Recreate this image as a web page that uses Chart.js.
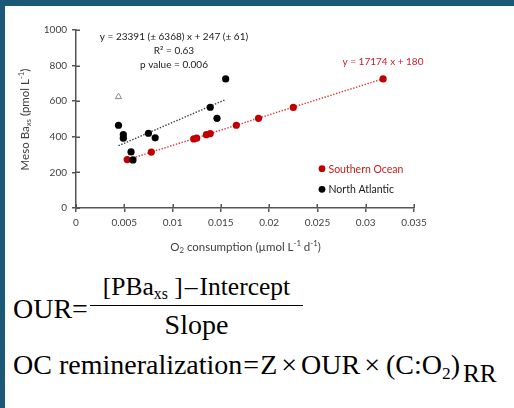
<!DOCTYPE html>
<html>
<head>
<meta charset="utf-8">
<script src="https://cdn.jsdelivr.net/npm/chart.js@4.4.1/dist/chart.umd.min.js"></script>
<style>
    html, body { margin: 0; padding: 0; background: #fff; }
    #marco { position: relative; width: 514px; height: 408px; overflow: hidden; background: #fff; }
    #barra-sup { position: absolute; left: 0; top: 0; width: 514px; height: 6px; background: #1a5878; }
    #barra-izq { position: absolute; left: 0; top: 0; width: 5px; height: 408px; background: #1a5878; }
    #grafico-ba { position: absolute; left: 5px; top: 6px; }
    .ec { position: absolute; font-family: "Liberation Serif", "Times New Roman", serif; font-size: 28px; line-height: 1; color: #000; white-space: nowrap; }
    .ec .op { margin: 0 2px; }
    .ec .ig { margin: 0 1px; }
    .ec .por { margin: 0 4px; }
    .ec .par { margin-left: 2px; }
    .ec .sb { font-size: 0.62em; position: relative; top: 0.28em; }
    .ec .rr { font-size: 0.9em; top: 0.3em; margin-left: 3px; }
    .frac { position: absolute; left: 90px; width: 213px; text-align: center; }
    #raya { position: absolute; left: 90px; top: 305px; width: 213px; height: 1px; background: #000; }
</style>
</head>
<body>
<div id="marco">
    <div id="barra-sup"></div>
    <div id="barra-izq"></div>
    <canvas id="grafico-ba" width="509" height="254"></canvas>

    <div class="ec" style="left:13px; top:295px;">OUR=</div>
    <div class="ec frac" style="top:274px; font-size:25.5px;">[PBa<span class="sb">xs</span> ]<span class="op">–</span>Intercept</div>
    <div id="raya"></div>
    <div class="ec frac" style="top:311px;">Slope</div>
    <div class="ec" style="left:13px; top:351px;">OC remineralization<span class="ig">=</span>Z<span class="por">×</span>OUR<span class="por">×</span><span class="par">(</span>C:O<span class="sb">2</span>)<span class="sb rr">RR</span></div>
</div>

<script>
// Océano Austral
const surX = [0.0053, 0.0078, 0.0122, 0.0125, 0.0135, 0.0139, 0.0166, 0.0189, 0.0225, 0.0318];
const surY = [272, 314, 388, 392, 412, 418, 465, 504, 565, 725];

// Atlántico Norte
const norteX = [0.0044, 0.0049, 0.0049, 0.0057, 0.0059, 0.0075, 0.0082, 0.0139, 0.0146, 0.0155];
const norteY = [465, 412, 392, 315, 270, 420, 394, 566, 504, 725];

// punto fuera del ajuste (triángulo)
const excluidoX = [0.0044];
const excluidoY = [625];

// rectas de regresión: [Austral, Norte]
const pendientes = [17174, 23391];
const ordenadas = [180, 247];

// ejes
const xTicks = [0, 0.005, 0.01, 0.015, 0.02, 0.025, 0.03, 0.035];
const xEtiquetas = ["0", "0.005", "0.01", "0.015", "0.02", "0.025", "0.03", "0.035"];
const yTicks = [0, 200, 400, 600, 800, 1000];
const yEtiquetas = ["0", "200", "400", "600", "800", "1000"];

const ROJO = "#c00000";
const GRIS = "#404040";
const EJE = "#555555";

function pares(xs, ys) {
    return xs.map((x, i) => ({ x: x, y: ys[i] }));
}

// recta entre el mínimo y el máximo de x de la serie
function recta(xs, m, b) {
    const x0 = Math.min(...xs), x1 = Math.max(...xs);
    return [{ x: x0, y: m * x0 + b }, { x: x1, y: m * x1 + b }];
}

// texto con subíndices / superíndices
function textoRico(ctx, partes, x, y, tam, color) {
    let ancho = 0;
    partes.forEach(p => {
        ctx.font = (p.s ? tam * 0.68 : tam) + "px Lato";
        p.w = ctx.measureText(p.t).width;
        ancho += p.w;
    });
    let cx = x - ancho / 2;
    ctx.fillStyle = color;
    ctx.textAlign = "left";
    ctx.textBaseline = "middle";
    partes.forEach(p => {
        ctx.font = (p.s ? tam * 0.68 : tam) + "px Lato";
        let dy = 0;
        if (p.s === "sub") dy = tam * 0.3;
        if (p.s === "sup") dy = -tam * 0.3;
        ctx.fillText(p.t, cx, y + dy);
        cx += p.w;
    });
}

const extras = {
    id: "extras",
    afterDraw(chart) {
        const ctx = chart.ctx;
        const sx = chart.scales.x, sy = chart.scales.y;
        ctx.save();

        // marcas hacia dentro (las de fuera las pone Chart.js)
        ctx.strokeStyle = EJE;
        ctx.lineWidth = 1.5;
        ctx.beginPath();
        yTicks.forEach(v => {
            const p = Math.round(sy.getPixelForValue(v)) + 0.25;
            ctx.moveTo(sx.left, p);
            ctx.lineTo(sx.left + 4, p);
        });
        xTicks.forEach(v => {
            const p = Math.round(sx.getPixelForValue(v)) + 0.25;
            ctx.moveTo(p, sy.bottom);
            ctx.lineTo(p, sy.bottom - 4);
        });
        ctx.stroke();

        // títulos de ejes
        textoRico(ctx, [
            { t: "O" }, { t: "2", s: "sub" }, { t: " consumption (µmol L" }, { t: "-1", s: "sup" },
            { t: " d" }, { t: "-1", s: "sup" }, { t: ")" }
        ], 240.5, 241, 11.5, GRIS);

        ctx.save();
        ctx.translate(20, 113.5);
        ctx.rotate(-Math.PI / 2);
        textoRico(ctx, [
            { t: "Meso Ba" }, { t: "xs", s: "sub" }, { t: " (pmol L" }, { t: "-1", s: "sup" }, { t: ")" }
        ], 0, 0, 11.5, GRIS);
        ctx.restore();

        // ecuaciones de las rectas
        ctx.font = "10px Lato";
        ctx.textAlign = "center";
        ctx.textBaseline = "middle";
        ctx.fillStyle = "#1a1a1a";
        ctx.fillText("y = " + pendientes[1] + " (± 6368) x + " + ordenadas[1] + " (± 61)", 169, 31);
        ctx.fillText("R² = 0.63", 169, 44.5);
        ctx.fillText("p value = 0.006", 169, 58.5);
        ctx.fillStyle = "#cc1a2a";
        ctx.fillText("y = " + pendientes[0] + " x + " + ordenadas[0], 378, 56);

        // leyenda
        const leyenda = [chart.data.datasets[0], chart.data.datasets[1]];
        const filas = [162.7, 183.3];
        ctx.font = "10.5px Lato";
        ctx.textAlign = "left";
        leyenda.forEach((ds, i) => {
            ctx.fillStyle = ds.backgroundColor;
            ctx.beginPath();
            ctx.arc(317, filas[i], 3.4, 0, Math.PI * 2);
            ctx.fill();
            ctx.fillStyle = i === 0 ? "#cc1a1a" : "#1a1a1a";
            ctx.fillText(ds.label, 323.5, filas[i] + 0.5);
        });

        ctx.restore();
    }
};

document.addEventListener("DOMContentLoaded", function () {
    const ctx = document.getElementById("grafico-ba").getContext("2d");

    new Chart(ctx, {
        type: "scatter",
        data: {
            datasets: [{
                label: "Southern Ocean",
                data: pares(surX, surY),
                backgroundColor: ROJO,
                borderColor: ROJO,
                borderWidth: 0,
                pointRadius: 3.6,
                order: 1
            }, {
                label: "North Atlantic",
                data: pares(norteX, norteY),
                backgroundColor: "#000",
                borderColor: "#000",
                borderWidth: 0,
                pointRadius: 3.6,
                order: 0
            }, {
                label: "excluido",
                data: pares(excluidoX, excluidoY),
                pointStyle: "triangle",
                backgroundColor: "#fff",
                borderColor: "#8a8a8a",
                borderWidth: 1,
                pointRadius: 3.6,
                order: 2
            }, {
                label: "ajuste Austral",
                type: "line",
                data: recta(surX, pendientes[0], ordenadas[0]),
                borderColor: "#e03535",
                borderWidth: 1.4,
                borderDash: [1.4, 1.6],
                pointRadius: 0,
                fill: false,
                order: 5
            }, {
                label: "ajuste Norte",
                type: "line",
                data: recta(norteX, pendientes[1], ordenadas[1]),
                borderColor: "#3a3a3a",
                borderWidth: 1.4,
                borderDash: [1.4, 1.6],
                pointRadius: 0,
                fill: false,
                order: 5
            }]
        },
        options: {
            responsive: false,
            animation: false,
            devicePixelRatio: 1,
            layout: { padding: { left: 0, right: 100, top: 24, bottom: 0 } },
            plugins: {
                legend: { display: false },
                tooltip: { enabled: false }
            },
            scales: {
                x: {
                    type: "linear",
                    min: 0,
                    max: 0.035,
                    afterFit: function (s) { s.height = 52; },
                    afterBuildTicks: function (s) { s.ticks = xTicks.map(v => ({ value: v })); },
                    ticks: {
                        callback: (v, i) => xEtiquetas[i],
                        font: { family: "Lato", size: 10 },
                        color: GRIS,
                        padding: 5,
                        maxRotation: 0,
                        autoSkip: false
                    },
                    grid: { drawOnChartArea: false, tickLength: 4, color: EJE, lineWidth: 1.5 },
                    border: { color: EJE, width: 1.5 }
                },
                y: {
                    type: "linear",
                    min: 0,
                    max: 1000,
                    afterFit: function (s) { s.width = 71; },
                    afterBuildTicks: function (s) { s.ticks = yTicks.map(v => ({ value: v })); },
                    ticks: {
                        callback: (v, i) => yEtiquetas[i],
                        font: { family: "Lato", size: 10 },
                        color: GRIS,
                        padding: 5,
                        autoSkip: false
                    },
                    grid: { drawOnChartArea: false, tickLength: 4, color: EJE, lineWidth: 1.5 },
                    border: { color: EJE, width: 1.5 }
                }
            }
        },
        plugins: [extras]
    });
});
</script>
</body>
</html>
